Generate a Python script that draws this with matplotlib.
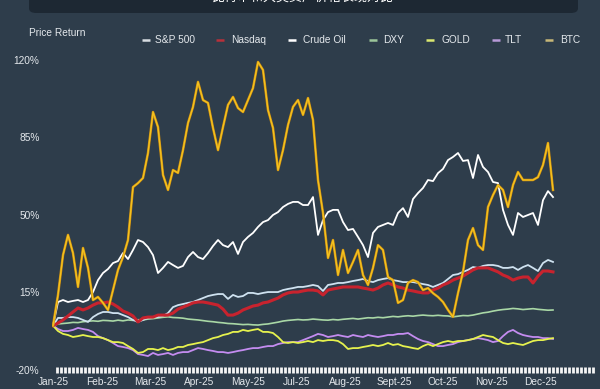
import matplotlib
matplotlib.use("Agg")
import matplotlib.pyplot as plt
from matplotlib.lines import Line2D
from matplotlib.patches import FancyBboxPatch
from matplotlib.ticker import MultipleLocator, FixedLocator

# ---------------- data ----------------
month_labels = ["Jan-25", "Feb-25", "Mar-25", "Apr-25", "May-25", "Jul-25",
                "Aug-25", "Sept-25", "Oct-25", "Nov-25", "Dec-25"]
month_pos = [0, 9.74, 19.48, 29.22, 38.96, 48.7, 58.44, 68.18, 77.92, 87.66, 97.4]
y_ticks = [120, 85, 50, 15, -20]
y_tick_labels = ["120%", "85%", "50%", "15%", "-20%"]

obs = list(range(101))

btc = [0, 13.9, 31.9, 41.0, 32.8, 17.5, 35.1, 26.1, 11.6, 13.0,
       10.3, 7.1, 16.1, 25.2, 31.0, 38.7, 62.6, 64.4, 66.7, 78.0,
       96.5, 89.7, 68.1, 61.3, 70.3, 69.0, 79.3, 91.5, 98.8, 110.1,
       101.9, 100.6, 89.3, 79.3, 89.7, 99.7, 103.3, 98.3, 96.5, 101.9,
       107.3, 119.1, 115.5, 97.4, 89.3, 70.3, 79.3, 90.6, 98.8, 101.9,
       95.2, 102.8, 92.9, 65.8, 50.9, 30.6, 38.7, 22.9, 34.2, 23.8,
       28.8, 34.2, 22.9, 18.4, 26.1, 36.4, 34.2, 22.0, 20.6, 10.3,
       11.6, 19.3, 20.6, 19.7, 16.1, 17.0, 14.7, 13.0, 10.7, 7.1,
       4.0, 14.7, 24.3, 38.7, 44.1, 36.4, 34.2, 53.6, 59.0, 63.5,
       61.3, 53.6, 63.5, 69.4, 65.8, 65.8, 65.8, 67.1, 72.6, 82.5,
       61.3]

crude = [0, 10.7, 11.6, 10.7, 11.2, 11.6, 10.7, 11.6, 15.2, 20.6,
         23.8, 25.6, 28.3, 29.2, 32.8, 30.1, 34.2, 38.7, 37.8, 35.5,
         31.9, 23.8, 26.1, 28.8, 27.4, 26.1, 27.0, 31.0, 33.3, 31.0,
         30.1, 32.8, 36.0, 38.7, 36.4, 35.5, 37.8, 32.4, 37.8, 40.1,
         41.9, 44.6, 46.8, 47.7, 50.0, 51.3, 53.6, 55.0, 55.9, 55.9,
         54.5, 54.5, 58.1, 41.0, 47.7, 51.3, 52.3, 52.3, 46.8, 43.2,
         43.7, 40.1, 36.4, 31.0, 41.9, 44.6, 45.5, 46.4, 45.5, 50.9,
         53.1, 49.1, 57.2, 59.9, 62.2, 65.8, 65.3, 68.9, 70.8, 74.8,
         76.2, 78.0, 74.4, 74.8, 66.7, 77.1, 71.7, 69.4, 64.9, 64.4,
         52.3, 45.5, 41.0, 50.9, 49.1, 50.0, 50.9, 45.5, 56.7, 60.8,
         58.1]

sp500 = [0, 3.5, 3.5, 3.9, 3.9, 3.5, 2.6, 1.7, 3.9, 5.3,
         6.2, 6.2, 5.7, 5.7, 4.8, 3.9, 2.6, 1.7, 2.6, 3.5,
         3.9, 3.9, 4.4, 5.7, 8.4, 9.3, 9.8, 10.3, 10.7, 11.6,
         12.5, 13.4, 13.9, 14.3, 14.3, 12.1, 13.9, 13.0, 13.4, 14.8,
         14.8, 14.3, 14.8, 15.2, 15.2, 15.2, 16.1, 16.6, 17.0, 17.5,
         17.5, 17.9, 18.4, 17.9, 15.7, 18.4, 18.8, 19.3, 19.3, 19.7,
         20.2, 20.6, 21.1, 20.2, 19.7, 20.6, 21.1, 21.5, 20.6, 20.2,
         19.7, 19.7, 19.7, 19.3, 18.8, 18.4, 17.5, 18.4, 19.3, 21.1,
         22.9, 23.3, 24.3, 25.2, 26.5, 26.1, 27.0, 27.4, 27.4, 27.0,
         26.1, 26.1, 26.5, 25.2, 26.5, 27.4, 26.1, 24.7, 28.3, 29.7,
         28.8]

nasdaq = [0, 1.2, 2.6, 4.4, 6.2, 8.0, 7.1, 8.0, 9.3, 10.3,
          10.3, 10.7, 9.8, 8.4, 6.6, 5.7, 4.4, 1.7, 3.5, 3.9,
          3.9, 4.8, 4.8, 4.8, 5.7, 7.5, 8.4, 9.3, 10.3, 10.7,
          10.7, 10.3, 9.8, 9.3, 7.5, 4.8, 4.8, 5.7, 7.1, 8.0,
          8.9, 9.3, 10.3, 10.7, 11.6, 12.5, 13.9, 14.8, 15.2, 15.2,
          15.7, 16.1, 16.1, 15.7, 13.9, 16.1, 16.6, 17.0, 17.5, 17.5,
          17.5, 17.5, 17.0, 16.6, 16.1, 17.0, 18.4, 19.3, 18.4, 17.5,
          17.0, 16.1, 15.7, 15.2, 14.8, 14.8, 16.1, 17.0, 18.4, 19.3,
          20.6, 21.5, 22.4, 23.8, 25.2, 26.1, 26.1, 26.1, 25.2, 24.3,
          22.9, 22.0, 20.6, 21.5, 22.0, 22.0, 19.3, 22.4, 24.7, 24.7,
          24.3]

dxy = [0, 0.8, 1.0, 1.2, 1.5, 1.4, 1.8, 2.0, 2.2, 2.0,
       2.4, 2.3, 2.1, 2.5, 2.2, 2.6, 2.4, 2.7, 2.6, 3.0,
       3.2, 3.5, 3.8, 4.0, 3.7, 3.6, 3.4, 3.0, 2.8, 2.6,
       2.3, 2.0, 1.8, 1.5, 1.3, 1.0, 0.9, 0.7, 0.5, 0.6,
       0.4, 0.3, 0.6, 0.8, 1.2, 1.6, 2.1, 2.4, 2.6, 2.8,
       2.6, 2.7, 3.0, 2.8, 2.6, 2.5, 2.8, 2.6, 2.9, 3.1,
       3.3, 3.0, 3.3, 3.6, 3.5, 3.8, 3.6, 3.9, 4.2, 4.0,
       4.3, 4.5, 4.3, 4.6, 4.8, 4.6, 4.5, 4.7, 4.5, 4.4,
       4.0, 4.3, 4.6, 4.5, 4.8, 5.3, 5.8, 6.1, 6.6, 7.0,
       7.3, 7.5, 7.8, 7.6, 7.3, 7.5, 7.7, 7.4, 7.2, 7.0,
       7.1]

gold = [0, -2.4, -3.7, -4.2, -5.1, -4.7, -4.2, -4.7, -5.1, -5.1,
        -5.6, -6.5, -7.4, -7.4, -7.8, -9.2, -10.5, -12.3, -11.9, -10.5,
        -10.5, -11.0, -10.1, -11.0, -10.5, -9.6, -9.6, -8.7, -8.3, -7.8,
        -7.4, -6.5, -5.6, -5.1, -4.2, -3.7, -2.8, -2.8, -1.9, -2.4,
        -1.9, -1.5, -2.8, -2.8, -3.3, -5.1, -7.4, -7.8, -7.4, -7.8,
        -7.4, -6.9, -7.4, -6.5, -6.9, -6.5, -6.5, -6.9, -8.3, -10.5,
        -10.1, -10.1, -9.6, -9.2, -8.7, -9.2, -8.7, -7.8, -8.7, -8.3,
        -9.2, -9.6, -10.1, -10.5, -9.2, -8.3, -9.2, -8.3, -7.4, -6.9,
        -7.4, -6.9, -6.9, -6.5, -6.0, -5.1, -4.2, -4.7, -5.1, -6.5,
        -7.8, -8.3, -7.8, -8.3, -8.7, -7.8, -6.9, -6.5, -6.5, -6.0,
        -5.6]

tlt = [0, -1.5, -2.4, -2.4, -1.9, -1.0, -1.5, -1.9, -2.8, -4.7,
       -5.6, -6.5, -7.8, -9.2, -9.6, -10.1, -11.0, -12.8, -13.2, -13.7,
       -12.3, -13.2, -12.8, -12.3, -13.2, -12.3, -11.9, -11.9, -11.0, -10.1,
       -10.5, -11.0, -11.4, -11.9, -11.9, -12.3, -11.9, -11.4, -11.0, -10.5,
       -10.1, -10.1, -9.6, -9.2, -9.2, -8.3, -7.8, -7.4, -7.4, -7.4,
       -6.5, -5.6, -4.7, -3.7, -4.2, -5.1, -4.7, -4.2, -4.7, -5.1,
       -4.2, -4.7, -5.1, -4.2, -4.7, -5.1, -4.7, -4.2, -4.2, -3.7,
       -3.7, -3.3, -4.7, -6.0, -6.9, -7.4, -8.3, -9.2, -9.2, -8.7,
       -8.3, -7.4, -6.9, -6.5, -6.0, -5.6, -6.0, -6.5, -7.4, -6.9,
       -4.7, -2.8, -1.9, -3.3, -4.2, -4.7, -5.1, -5.1, -5.6, -5.6,
       -6.0]

series_names = ["S&P 500", "Nasdaq", "Crude Oil", "DXY", "GOLD", "TLT", "BTC"]

# ---------------- styling ----------------
BG = "#2e3d4b"
TXT = "#e4e8ec"
colors = {
    "S&P 500": "#cfe2f0",
    "Nasdaq": "#c8232e",
    "Crude Oil": "#ffffff",
    "DXY": "#a9d8a6",
    "GOLD": "#e6f24e",
    "TLT": "#c48cf0",
    "BTC": "#f4c21f",
}
legend_marker_colors = {
    "S&P 500": "#d8dde2",
    "Nasdaq": "#b8303a",
    "Crude Oil": "#ffffff",
    "DXY": "#9cc59a",
    "GOLD": "#dbe870",
    "TLT": "#b89ad8",
    "BTC": "#c8b878",
}

plt.rcParams["font.family"] = ["Liberation Sans", "DejaVu Sans"]

W, H = 600, 389
fig = plt.figure(figsize=(W / 100, H / 100), dpi=100, facecolor=BG)

def fx(px):
    return px / W

def fy(py):
    return 1 - py / H

ax_left, ax_right, ax_bottom, ax_top = 52, 596, 370, 48.9
ax = fig.add_axes([fx(ax_left), fy(ax_bottom), (ax_right - ax_left) / W,
                   (ax_bottom - ax_top) / H])
ax.set_facecolor(BG)

ax.plot(obs, dxy, color=colors["DXY"], lw=1.2, zorder=2)
ax.plot(obs, tlt, color=colors["TLT"], lw=1.3, zorder=3)
ax.plot(obs, gold, color=colors["GOLD"], lw=1.3, zorder=3)
ax.plot(obs, sp500, color=colors["S&P 500"], lw=1.3, zorder=4)
ax.plot(obs, nasdaq, color=colors["Nasdaq"], lw=2.2, zorder=5)
ax.plot(obs, crude, color=colors["Crude Oil"], lw=1.3, zorder=6)
ax.plot(obs, btc, color="#c98a10", lw=1.8, zorder=7)
ax.plot(obs, btc, color=colors["BTC"], lw=1.0, zorder=8)

ax.set_xlim(-0.2, 108.6)
ax.set_ylim(-20, 125)

for s in ax.spines.values():
    s.set_visible(False)

ax.set_yticks(y_ticks)
ax.set_yticklabels(y_tick_labels)
ax.tick_params(axis="y", length=0, pad=9, labelsize=7.3, labelcolor=TXT)

ax.xaxis.set_major_locator(FixedLocator(month_pos))
ax.set_xticklabels(month_labels)
ax.tick_params(axis="x", which="major", length=0, pad=5, labelsize=7.3, labelcolor=TXT)
ax.xaxis.set_minor_locator(MultipleLocator(0.8))
ax.tick_params(axis="x", which="minor", length=3.8, width=2.0, color="#f4f4f4",
               direction="inout")

# title bar (cut off at top, as in the reference)
bar = FancyBboxPatch((fx(29), fy(13)), fx(578) - fx(29), fy(-12) - fy(13),
                     boxstyle="round,pad=0,rounding_size=0.012",
                     transform=fig.transFigure, fc="#1d2833", ec="none", zorder=0)
fig.add_artist(bar)
fig.text(fx(303), fy(-2.5), "比特币和大类资产价格表现对比", ha="center", va="center",
         fontsize=9.4, color="#ffffff",
         family=["Noto Sans CJK SC", "DejaVu Sans"])

# y-axis title
fig.text(fx(29), fy(33), "Price Return", ha="left", va="center", fontsize=7.3, color=TXT)

# legend
marker_x = [142, 216, 288, 369, 426, 492, 545]
label_x = [155, 231, 303, 383, 441, 505, 560]
for name, mx, lx in zip(series_names, marker_x, label_x):
    fig.add_artist(Line2D([fx(mx), fx(mx + 8)], [fy(40), fy(40)],
                          transform=fig.transFigure, color=legend_marker_colors[name],
                          lw=1.8, solid_capstyle="butt"))
    fig.text(fx(lx), fy(40), name, ha="left", va="center", fontsize=7.3, color=TXT)

fig.savefig("out.png", dpi=100, facecolor=BG)
